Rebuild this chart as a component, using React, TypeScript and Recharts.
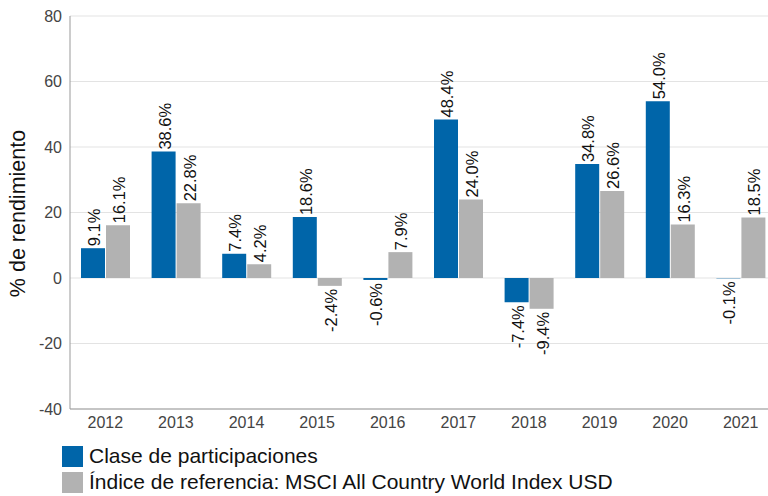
import { BarChart, Bar, XAxis, YAxis, CartesianGrid, LabelList } from "recharts";

const years = ["2012", "2013", "2014", "2015", "2016", "2017", "2018", "2019", "2020", "2021"];
const fundReturns = [9.1, 38.6, 7.4, 18.6, -0.6, 48.4, -7.4, 34.8, 54.0, -0.1];
const indexReturns = [16.1, 22.8, 4.2, -2.4, 7.9, 24.0, -9.4, 26.6, 16.3, 18.5];
const yTicks = [-40, -20, 0, 20, 40, 60, 80];

const FUND_NAME = "Clase de participaciones";
const INDEX_NAME = "Índice de referencia: MSCI All Country World Index USD";
const BLUE = "#0065a9";
const GRAY = "#b2b2b2";
const FONT = "'Liberation Sans', Arial, sans-serif";

const data = years.map((year, i) => ({
  year,
  fund: fundReturns[i],
  index: indexReturns[i],
}));

const BarValueLabel = (props: any) => {
  const { x, y, width, height, value } = props;
  if (value == null) return null;
  const top = Math.min(y, y + height);
  const bottom = Math.max(y, y + height);
  const cx = x + width / 2 + 1;
  const pos = value >= 0;
  const ty = pos ? top - 2 : bottom + 3;
  return (
    <text
      x={cx}
      y={ty}
      transform={`rotate(-90 ${cx} ${ty})`}
      textAnchor={pos ? "start" : "end"}
      dominantBaseline="central"
      fontSize={16.5}
      fill="#111"
      fontFamily={FONT}
    >
      {value.toFixed(1)}%
    </text>
  );
};

const AxisTitle = (props: any) => {
  const vb = props.viewBox || {};
  const cy = (vb.y ?? 16) + (vb.height ?? 393) / 2 + 1;
  return (
    <text
      x={18}
      y={cy}
      transform={`rotate(-90 18 ${cy})`}
      textAnchor="middle"
      dominantBaseline="central"
      fontSize={21.5}
      fill="#111"
      fontFamily={FONT}
    >
      % de rendimiento
    </text>
  );
};

const LegendRow = ({ color, label }: { color: string; label: string }) => (
  <div style={{ display: "flex", alignItems: "center", height: 26 }}>
    <span style={{ width: 21, height: 21, background: color, flexShrink: 0 }} />
    <span style={{ marginLeft: 6, fontSize: 21, color: "#111", whiteSpace: "nowrap" }}>{label}</span>
  </div>
);

export default function App() {
  return (
    <div
      style={{
        position: "fixed",
        left: 0,
        top: 0,
        width: 768,
        height: 496,
        overflow: "hidden",
        background: "#fff",
        fontFamily: FONT,
      }}
    >
      <BarChart
        width={790}
        height={440}
        data={data}
        margin={{ top: 16, right: 14, left: 0, bottom: 0 }}
        barGap={1}
        barSize={24}
      >
        <CartesianGrid vertical={false} stroke="#e3e3e3" />
        <XAxis
          dataKey="year"
          height={31}
          tickLine={false}
          axisLine={{ stroke: "#999" }}
          tick={{ fill: "#444", fontSize: 16, fontFamily: FONT }}
        />
        <YAxis
          width={70}
          domain={[-40, 80]}
          ticks={yTicks}
          tickLine={false}
          axisLine={{ stroke: "#999" }}
          tick={{ fill: "#444", fontSize: 16, fontFamily: FONT }}
          label={<AxisTitle />}
        />
        <Bar dataKey="fund" name={FUND_NAME} fill={BLUE} isAnimationActive={false}>
          <LabelList dataKey="fund" content={BarValueLabel} />
        </Bar>
        <Bar dataKey="index" name={INDEX_NAME} fill={GRAY} isAnimationActive={false}>
          <LabelList dataKey="index" content={BarValueLabel} />
        </Bar>
      </BarChart>
      <div style={{ position: "absolute", left: 62, top: 443 }}>
        <LegendRow color={BLUE} label={FUND_NAME} />
        <LegendRow color={GRAY} label={INDEX_NAME} />
      </div>
    </div>
  );
}
